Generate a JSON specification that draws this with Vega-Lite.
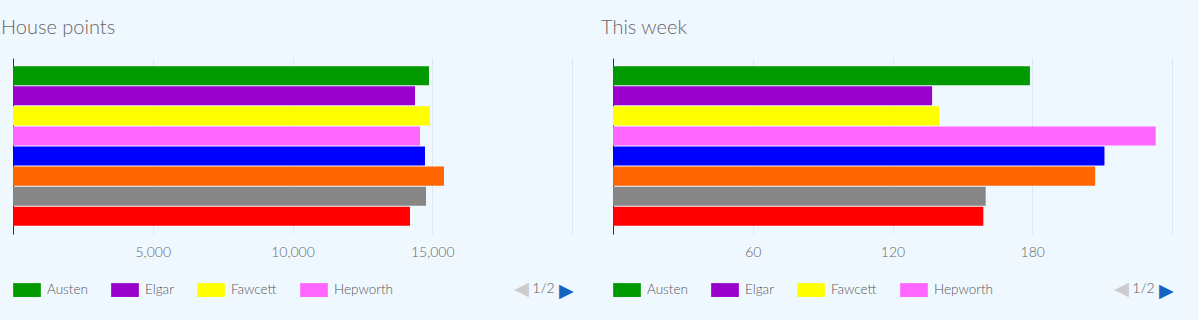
{
  "$schema": "https://vega.github.io/schema/vega-lite/v6.json",
  "background": "#f0f8ff",
  "padding": {"left": 1, "top": 18, "right": 26, "bottom": 20},
  "data": {"values": [
    {"house": "Austen", "points": 14884, "week": 179},
    {"house": "Elgar", "points": 14382, "week": 137},
    {"house": "Fawcett", "points": 14919, "week": 140},
    {"house": "Hepworth", "points": 14561, "week": 233},
    {"house": "Lovelace", "points": 14740, "week": 211},
    {"house": "Nightingale", "points": 15420, "week": 207},
    {"house": "Seacole", "points": 14776, "week": 160},
    {"house": "Turing", "points": 14203, "week": 159}
  ]},
  "spacing": 27,
  "hconcat": [
    {
      "title": {"text": "House points"},
      "width": 559,
      "height": 176,
      "mark": {"type": "bar"},
      "encoding": {
        "y": {"field": "house", "type": "nominal", "sort": null,
              "scale": {"paddingInner": 0.05, "paddingOuter": 0.41},
              "axis": {"title": "◀"}},
        "x": {"field": "points", "type": "quantitative",
              "scale": {"domain": [0, 20000], "nice": false},
              "axis": {"values": [0, 5000, 10000, 15000, 20000],
                       "labelExpr": "datum.value == 0 || datum.value == 20000 ? '' : format(datum.value, ',')",
                       "title": "1/2"}},
        "color": {"field": "house", "type": "nominal",
                  "scale": {"domain": ["Austen", "Elgar", "Fawcett", "Hepworth", "Lovelace", "Nightingale", "Seacole", "Turing"],
                            "range": ["#009900", "#9900cc", "#ffff00", "#ff66ff", "#0000ff", "#ff6600", "#868686", "#ff0000"]},
                  "legend": {"values": ["Austen", "Elgar", "Fawcett", "Hepworth"], "title": "▶"}}
      }
    },
    {
      "title": {"text": "This week"},
      "width": 559,
      "height": 176,
      "mark": {"type": "bar"},
      "encoding": {
        "y": {"field": "house", "type": "nominal", "sort": null,
              "scale": {"paddingInner": 0.05, "paddingOuter": 0.41},
              "axis": {"title": "◀"}},
        "x": {"field": "week", "type": "quantitative",
              "scale": {"domain": [0, 240], "nice": false},
              "axis": {"values": [0, 60, 120, 180, 240],
                       "labelExpr": "datum.value == 0 || datum.value == 240 ? '' : format(datum.value, ',')",
                       "title": "1/2"}},
        "color": {"field": "house", "type": "nominal",
                  "scale": {"domain": ["Austen", "Elgar", "Fawcett", "Hepworth", "Lovelace", "Nightingale", "Seacole", "Turing"],
                            "range": ["#009900", "#9900cc", "#ffff00", "#ff66ff", "#0000ff", "#ff6600", "#868686", "#ff0000"]},
                  "legend": {"values": ["Austen", "Elgar", "Fawcett", "Hepworth"], "title": "▶"}}
      }
    }
  ],
  "resolve": {"scale": {"color": "independent", "x": "independent", "y": "independent"}, "legend": {"color": "independent"}},
  "config": {
    "font": "Lato",
    "view": {"stroke": null},
    "title": {"anchor": "start", "dx": -12, "fontSize": 20, "font": "Lato", "fontWeight": 300, "color": "#666666", "baseline": "alphabetic", "offset": 20},
    "bar": {"stroke": null},
    "axisY": {"domain": true, "domainColor": "#333333", "domainWidth": 1, "labels": false, "ticks": false, "grid": false,
              "titleX": 508, "titleY": 230, "titleAngle": 0, "titleAlign": "center", "titleBaseline": "middle", "titleAnchor": null,
              "titleFont": "DejaVu Sans", "titleFontSize": 19, "titleFontWeight": "normal", "titleColor": "#cccccc"},
    "axisX": {"domain": false, "ticks": false, "grid": true, "gridColor": "#dde8f1", "gridWidth": 1,
              "labelFont": "Lato", "labelFontSize": 14, "labelColor": "#666666", "labelPadding": 11, "labelFontWeight": 300,
              "titleX": 530, "titleY": 54, "titleAlign": "center", "titleAnchor": null, "titleBaseline": "middle",
              "titleFont": "Lato", "titleFontSize": 14, "titleFontWeight": 300, "titleColor": "#555555"},
    "legend": {"orient": "none", "legendX": 0, "legendY": 218, "direction": "horizontal",
               "titleOrient": "right", "titlePadding": 166, "titleAnchor": "end", "titleBaseline": "alphabetic",
               "titleFont": "DejaVu Sans", "titleFontSize": 19, "titleFontWeight": "normal", "titleColor": "#1565c0",
               "symbolType": "M-1,-0.5H1V0.5H-1Z", "symbolSize": 767, "symbolStrokeWidth": 0, "symbolOpacity": 1,
               "labelFont": "Lato", "labelFontSize": 13.5, "labelFontWeight": 300, "labelColor": "#555555", "labelOffset": 6, "columnPadding": 23}
  }
}
